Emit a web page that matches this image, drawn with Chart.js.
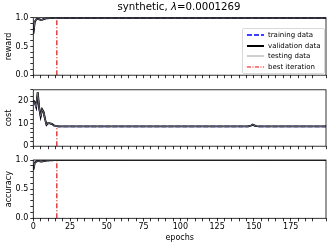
<!DOCTYPE html>
<html>
<head>
<meta charset="utf-8">
<script src="https://cdn.jsdelivr.net/npm/chart.js@4.4.1/dist/chart.umd.min.js"></script>
<style>
  body { margin:0; background:#fff; font-family:"DejaVu Sans", sans-serif; }
  canvas { position:absolute; }
  #title { position:absolute; left:79px; width:200px; top:1px; text-align:center; font-size:10.2px; color:#000; }
  #legend { position:absolute; left:242px; top:28px; width:81px; height:44px; border:1px solid #d9d9d9; border-radius:2px; background:rgba(255,255,255,0.8); font-size:7px; color:#000; }
  .row { position:absolute; left:4px; height:10px; }
  .row svg { position:absolute; left:0; top:1px; }
  .row span { position:absolute; left:21px; top:0; white-space:nowrap; line-height:10px; }
</style>
</head>
<body>
<canvas id="c1" width="332" height="82" style="left:0;top:0"></canvas>
<canvas id="c2" width="332" height="70" style="left:0;top:83px"></canvas>
<canvas id="c3" width="332" height="94" style="left:0;top:153px"></canvas>
<div id="title">synthetic, <i>λ</i>=0.0001269</div>
<div id="legend">
  <div class="row" style="top:1px"><svg width="18" height="8"><line x1="0" y1="4" x2="17" y2="4" stroke="#0000ff" stroke-width="1.5" stroke-dasharray="5,2"/></svg><span>training data</span></div>
  <div class="row" style="top:11.5px"><svg width="18" height="8"><line x1="0" y1="4" x2="17" y2="4" stroke="#000" stroke-width="2"/></svg><span>validation data</span></div>
  <div class="row" style="top:22px"><svg width="18" height="8"><line x1="0" y1="4" x2="17" y2="4" stroke="#888" stroke-width="0.8"/></svg><span>testing data</span></div>
  <div class="row" style="top:32.5px"><svg width="18" height="8"><line x1="0" y1="4" x2="17" y2="4" stroke="#ff0000" stroke-width="1.2" stroke-dasharray="4,1.5,1,1.5"/></svg><span>best iteration</span></div>
</div>
<script>
const epochs = [0,1,2,3,4,5,6,7,8,9,10,11,12,13,14,15,16,17,18,19,20,25,40,60,80,100,120,140,146,148,149,150,151,152,154,160,180,199];

const rewardTrain = [0.74,0.94,0.975,0.982,0.975,0.965,0.968,0.978,0.987,0.99,0.992,0.993,0.995,0.996,0.997,0.998,0.998,0.999,0.999,1,1,1,1,1,1,1,1,1,1,1,0.998,0.999,1,1,1,1,1,1];
const rewardVal   = [0.72,0.93,0.97,0.98,0.972,0.962,0.965,0.975,0.985,0.99,0.99,0.992,0.995,0.995,0.997,0.998,0.998,0.999,0.999,1,1,1,1,1,1,1,1,1,1,1,0.997,0.998,1,1,1,1,1,1];
const rewardTest  = [0.73,0.935,0.972,0.98,0.973,0.963,0.966,0.976,0.986,0.99,0.991,0.992,0.995,0.995,0.997,0.998,0.998,0.999,0.999,1,1,1,1,1,1,1,1,1,1,1,0.997,0.998,1,1,1,1,1,1];

const costTrain = [20.0,19.2,17.2,23.6,16.8,13.4,16.0,15.0,11.8,9.6,10.1,10.1,9.9,9.7,9.1,8.9,8.8,8.7,8.7,8.7,8.7,8.7,8.7,8.7,8.7,8.7,8.7,8.7,8.7,9.0,9.5,9.2,8.9,8.8,8.7,8.7,8.7,8.7];
const costVal   = [20.3,19.6,17.5,24.0,17.0,13.2,16.3,15.2,12.0,9.5,10.2,10.2,10.0,9.8,9.2,9.0,8.9,8.8,8.8,8.8,8.8,8.8,8.8,8.8,8.8,8.8,8.8,8.8,8.8,9.1,9.6,9.3,9.0,8.9,8.8,8.8,8.8,8.8];
const costTest  = [20.1,19.4,17.4,23.8,16.9,13.3,16.2,15.1,11.9,9.5,10.2,10.1,10.0,9.8,9.2,9.0,8.9,8.8,8.8,8.8,8.8,8.8,8.8,8.8,8.8,8.8,8.8,8.8,8.8,9.1,9.6,9.3,9.0,8.9,8.8,8.8,8.8,8.8];

const accTrain = [0.84,0.955,0.978,0.982,0.982,0.978,0.978,0.982,0.987,0.99,0.991,0.995,0.996,0.997,0.998,0.998,0.999,0.999,1,1,1,1,1,1,1,1,1,1,1,1,0.999,0.999,1,1,1,1,1,1];
const accVal   = [0.83,0.95,0.975,0.98,0.98,0.975,0.975,0.98,0.985,0.99,0.99,0.995,0.995,0.996,0.997,0.998,0.998,0.999,1,1,1,1,1,1,1,1,1,1,1,1,0.998,0.999,1,1,1,1,1,1];
const accTest  = [0.835,0.952,0.976,0.981,0.98,0.976,0.976,0.981,0.986,0.99,0.99,0.995,0.995,0.996,0.997,0.998,0.998,0.999,1,1,1,1,1,1,1,1,1,1,1,1,0.998,0.999,1,1,1,1,1,1];

const bestEpoch = 16;

Chart.defaults.font.family = "DejaVu Sans";
Chart.defaults.font.size = 8;
Chart.defaults.color = "#000";

const pts = vals => epochs.map((e, i) => ({x: e, y: vals[i]}));

// matplotlib style box round the axes
const frame = {
  id: 'frame',
  afterDraw(chart) {
    const a = chart.chartArea, ctx = chart.ctx;
    ctx.save();
    ctx.strokeStyle = '#000';
    ctx.lineWidth = 0.8;
    ctx.strokeRect(a.left, a.top, a.right - a.left, a.bottom - a.top);
    ctx.restore();
  }
};

function makeChart(id, label, tr, va, te, yMax, yStep, yMajor, fmt, padTop, showX) {
  const bestVal = va[epochs.indexOf(bestEpoch)];
  new Chart(document.getElementById(id), {
    type: 'line',
    data: {
      datasets: [
        {data: pts(te), borderColor: '#888888', borderWidth: 0.8, pointRadius: 0, tension: 0},
        {data: pts(va), borderColor: '#000000', borderWidth: 1.9, pointRadius: 0, tension: 0},
        {data: pts(tr), borderColor: '#0000ff', borderWidth: 1.5, borderDash: [5, 2], pointRadius: 0, tension: 0},
        {data: [{x: bestEpoch, y: 0}, {x: bestEpoch, y: bestVal}], borderColor: '#ff0000', borderWidth: 1.2, borderDash: [5, 2, 1, 2], pointRadius: 0}
      ]
    },
    options: {
      responsive: false,
      animation: false,
      devicePixelRatio: 1,
      layout: {padding: {top: padTop, right: 6, left: 0, bottom: 0}},
      plugins: {legend: {display: false}, tooltip: {enabled: false}},
      scales: {
        x: {
          type: 'linear', min: 0, max: 199,
          border: {display: false},
          grid: {drawOnChartArea: false, tickLength: 3, tickColor: '#000', tickWidth: 0.8},
          ticks: {stepSize: 5, autoSkip: false, maxRotation: 0, padding: 1, display: showX,
                  callback: v => v % 25 === 0 && v < 199 ? String(v) : ''},
          title: {display: showX, text: 'epochs', padding: {top: 0, bottom: 4}},
          afterFit: s => { s.height = showX ? 28.7 : 5; }
        },
        y: {
          min: 0, max: yMax,
          border: {display: false},
          grid: {drawOnChartArea: false, tickLength: 3, tickColor: '#000', tickWidth: 0.8},
          ticks: {stepSize: yStep, autoSkip: false, padding: 2,
                  callback: v => (Math.round(v / yStep) % yMajor === 0 && v < yMax + 1e-9 && Math.abs(v / yStep - Math.round(v / yStep)) < 1e-6) ? fmt(v) : ''},
          title: {display: true, text: label, padding: {top: 4, bottom: 0}},
          afterFit: s => { s.width = 33.3; }
        }
      }
    },
    plugins: [frame]
  });
}

makeChart('c1', 'reward', rewardTrain, rewardVal, rewardTest, 1, 0.1, 5, v => v.toFixed(1), 17.7, false);
makeChart('c2', 'cost', costTrain, costVal, costTest, 25, 2, 5, v => String(v), 6, false);
makeChart('c3', 'accuracy', accTrain, accVal, accTest, 1, 0.1, 5, v => v.toFixed(1), 7, true);
</script>
</body>
</html>
